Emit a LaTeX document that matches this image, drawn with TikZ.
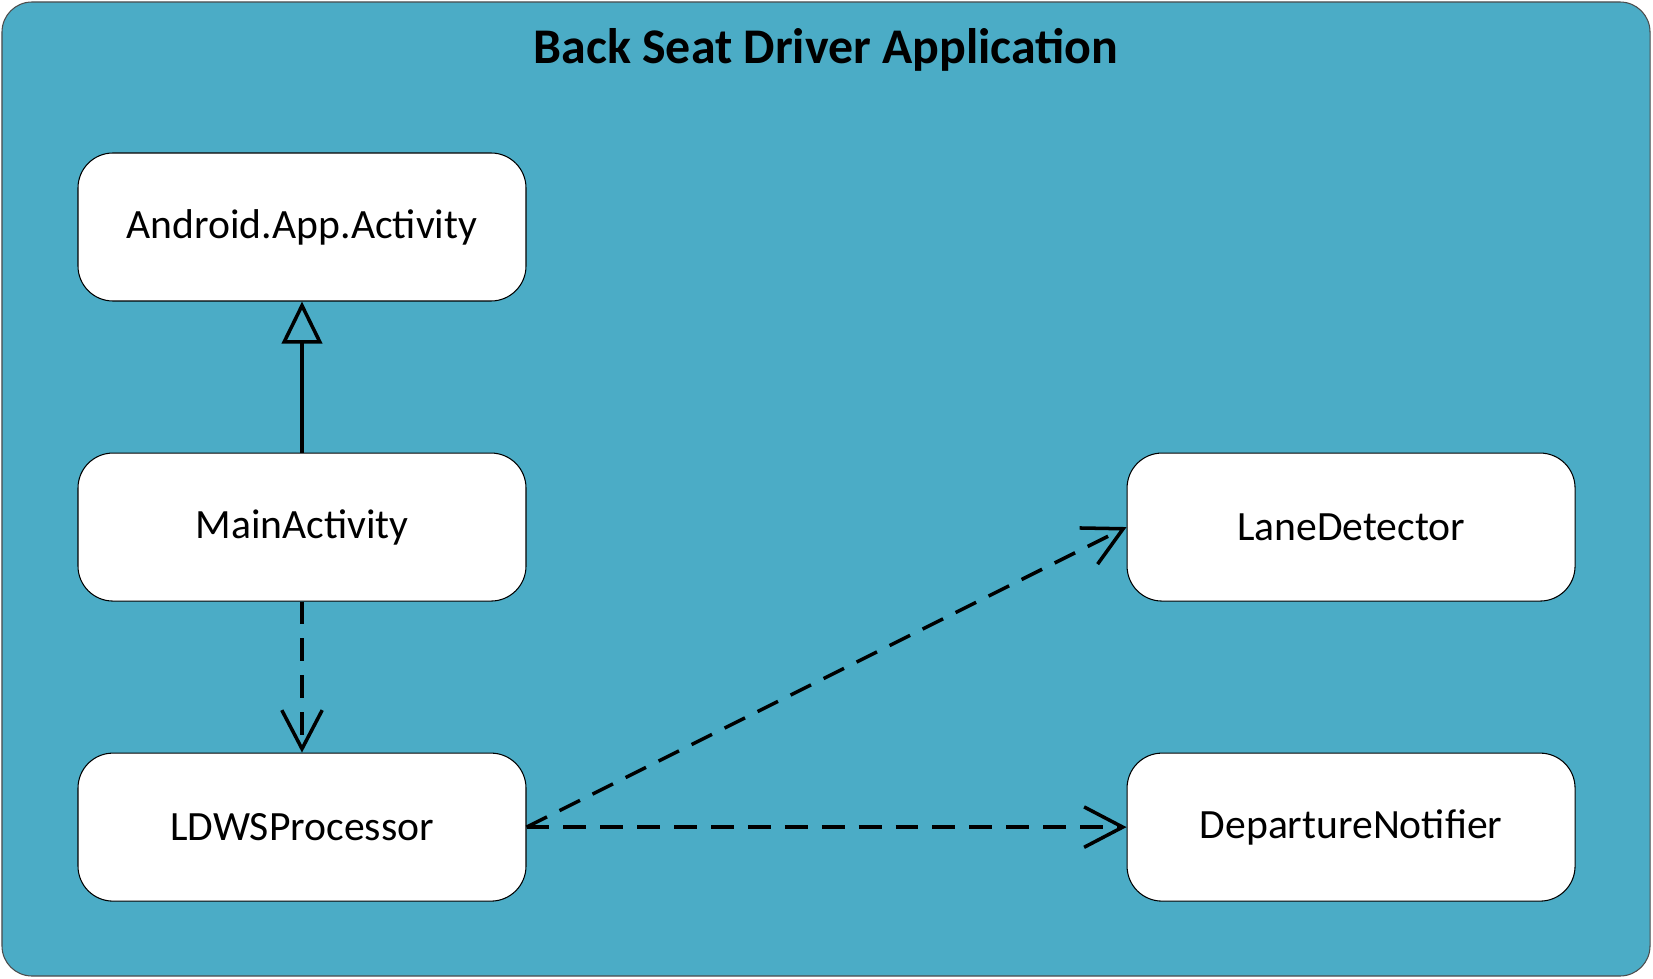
\documentclass[tikz,border=0pt]{standalone}
\usepackage{fontspec}
\setmainfont{Carlito}
\usepackage{xcolor}
\usepackage{tikz}
\usetikzlibrary{positioning, arrows.meta}

\definecolor{appblue}{HTML}{4BACC6}

\begin{document}
\begin{tikzpicture}[
  cls/.style={
    rectangle, draw=black, line width=0.6pt, fill=white,
    rounded corners=0.7cm,
    minimum height=2.96cm, minimum width=8.96cm,
    align=center, inner sep=0pt,
    font=\fontsize{23.7}{28}\selectfont
  },
  inherit/.style={-{Triangle[open, length=24pt, width=23pt]}, line width=2pt},
  uses/.style={-{Straight Barb[length=22pt, width=23pt]}, line width=2pt,
    dash pattern=on 13pt off 8pt},
  ttl/.style={font=\bfseries\fontsize{28.4}{32}\selectfont, anchor=base}
]
\useasboundingbox (0,0) rectangle (33.06,19.56);
\draw[fill=appblue, draw=black!70, line width=0.6pt, rounded corners=0.6cm]
  (0.04,0.04) rectangle (33.0,19.52);
\node[ttl] (title) at (16.52,18.28) {Back Seat Driver Application};

\node[cls] (activity) at (6.04,15.02) {Android.App.Activity};
\node[cls, below=3.02cm of activity] (main) {MainActivity};
\node[cls, below=3.02cm of main] (ldws) {LDWSProcessor};
\node[cls, right=12cm of main] (lane) {LaneDetector};
\node[cls, right=12cm of ldws] (notifier) {DepartureNotifier};

\draw[inherit] (main) -- (activity);
\draw[uses] (main) -- (ldws);
\draw[uses] (ldws.east) -- (lane.west);
\draw[uses] (ldws.east) -- (notifier.west);
\end{tikzpicture}
\end{document}
